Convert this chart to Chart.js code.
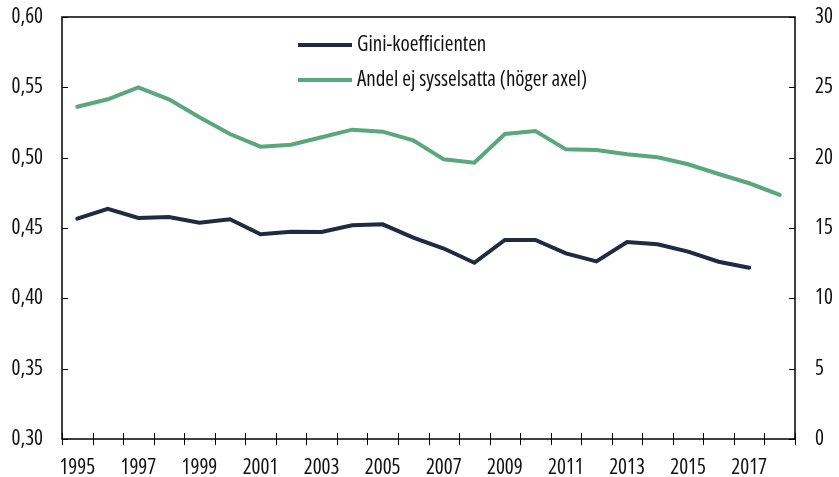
<!DOCTYPE html>
<html>
<head>
<meta charset="utf-8">
<script src="https://cdn.jsdelivr.net/npm/chart.js@4/dist/chart.umd.min.js"></script>
<style>
html,body{margin:0;padding:0;background:#fff;}
#wrap{width:839px;height:477px;}
</style>
</head>
<body>
<div id="wrap"><canvas id="c" width="839" height="477"></canvas></div>
<script>
const years = ['1995','1996','1997','1998','1999','2000','2001','2002','2003','2004','2005','2006','2007','2008','2009','2010','2011','2012','2013','2014','2015','2016','2017','2018'];
const giniValues = [0.4566,0.4637,0.4571,0.4578,0.4538,0.4562,0.4455,0.4474,0.4472,0.4519,0.4526,0.4431,0.4354,0.4253,0.4415,0.4415,0.4320,0.4263,0.4400,0.4384,0.4332,0.4260,0.4218,null];
const ejSysselsattaValues = [23.62,24.15,25.0,24.15,22.87,21.68,20.78,20.92,21.45,21.99,21.85,21.23,19.88,19.64,21.68,21.90,20.59,20.54,20.24,20.03,19.53,18.84,18.18,17.35];
const seriesNames = ['Gini-koefficienten','Andel ej sysselsatta (höger axel)'];
const leftTicks = [0.30,0.35,0.40,0.45,0.50,0.55,0.60];
const rightTicks = [0,5,10,15,20,25,30];

const FONT = "'Open Sans','Roboto Condensed','DejaVu Sans Condensed',sans-serif";
const NAVY = '#1e2b40';
const GREEN = '#5ba77d';
Chart.defaults.font.family = FONT;
Chart.defaults.font.size = 21;
Chart.defaults.font.weight = 'condensed';
Chart.defaults.color = '#111';

const frame = {
  id: 'frame',
  afterDatasetsDraw(chart) {
    const ctx = chart.ctx;
    const a = chart.chartArea;
    const x = chart.scales.x, y = chart.scales.y, y1 = chart.scales.y1;
    ctx.save();
    ctx.strokeStyle = '#000';
    ctx.lineWidth = 1.5;
    ctx.strokeRect(a.left, a.top, a.right - a.left, a.bottom - a.top);
    ctx.lineWidth = 1;
    ctx.beginPath();
    y.ticks.forEach(t => {
      const py = Math.round(y.getPixelForValue(t.value)) + 0.5;
      ctx.moveTo(a.left, py); ctx.lineTo(a.left + 6, py);
    });
    y1.ticks.forEach(t => {
      const py = Math.round(y1.getPixelForValue(t.value)) + 0.5;
      ctx.moveTo(a.right - 6, py); ctx.lineTo(a.right, py);
    });
    const n = years.length;
    for (let i = 0; i <= n; i++) {
      const px = Math.round(x.left + i * (x.width / n)) + 0.5;
      ctx.moveTo(px, a.bottom - 6); ctx.lineTo(px, a.bottom + 6);
    }
    ctx.stroke();
    // legend
    const items = [[NAVY, 45], [GREEN, 80]];
    items.forEach((it, i) => {
      ctx.strokeStyle = it[0];
      ctx.lineWidth = 4;
      ctx.beginPath();
      ctx.moveTo(298, it[1]); ctx.lineTo(352, it[1]);
      ctx.stroke();
      ctx.fillStyle = '#111';
      ctx.font = "condensed 21px " + FONT;
      ctx.textBaseline = 'middle';
      ctx.textAlign = 'left';
      ctx.fillText(seriesNames[i], 357, it[1]);
    });
    ctx.restore();
  }
};

new Chart(document.getElementById('c'), {
  type: 'line',
  data: {
    labels: years,
    datasets: [
      { label: seriesNames[0], data: giniValues, yAxisID: 'y', borderColor: NAVY, backgroundColor: NAVY, borderWidth: 4, pointRadius: 0, tension: 0, borderCapStyle: 'round' },
      { label: seriesNames[1], data: ejSysselsattaValues, yAxisID: 'y1', borderColor: GREEN, backgroundColor: GREEN, borderWidth: 4, pointRadius: 0, tension: 0, borderCapStyle: 'round' }
    ]
  },
  options: {
    responsive: false,
    devicePixelRatio: 1,
    animation: false,
    layout: { padding: { top: 17, left: 0, right: 0, bottom: 0 } },
    plugins: { legend: { display: false }, tooltip: { enabled: false }, title: { display: false } },
    scales: {
      x: {
        type: 'category',
        offset: true,
        grid: { display: false, drawTicks: false, offset: true },
        border: { display: false },
        ticks: {
          autoSkip: false, maxRotation: 0, minRotation: 0, padding: 16,
          callback: function(v, i) { const yr = years[i]; return (parseInt(yr) % 2 === 1) ? yr : ''; }
        },
        afterFit(s) { s.height = 38; s.paddingLeft = 0; s.paddingRight = 0; }
      },
      y: {
        position: 'left', min: 0.30, max: 0.60,
        grid: { display: false, drawTicks: false },
        border: { display: false },
        afterBuildTicks(s) { s.ticks = leftTicks.map(v => ({ value: v })); },
        ticks: { padding: 19, callback: v => Number(v).toFixed(2).replace('.', ',') },
        afterFit(s) { s.width = 62; s.paddingTop = 0; s.paddingBottom = 0; }
      },
      y1: {
        position: 'right', min: 0, max: 30,
        grid: { display: false, drawTicks: false },
        border: { display: false },
        afterBuildTicks(s) { s.ticks = rightTicks.map(v => ({ value: v })); },
        ticks: { padding: 20, callback: v => String(v) },
        afterFit(s) { s.width = 44; s.paddingTop = 0; s.paddingBottom = 0; }
      }
    }
  },
  plugins: [frame]
});
</script>
</body>
</html>
